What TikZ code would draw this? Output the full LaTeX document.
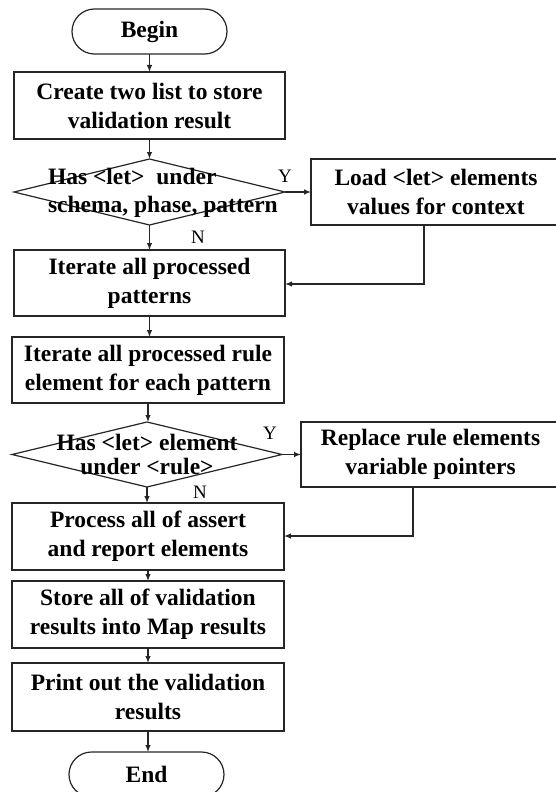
\documentclass[tikz,border=0pt]{standalone}
\usepackage{fontspec}
\setmainfont{Liberation Serif}
\usetikzlibrary{shapes.geometric,arrows.meta,calc}

\begin{document}
\begin{tikzpicture}[x=1pt,y=-1pt,
  line width=1.2pt,
  every node/.style={inner sep=0pt,outer sep=0pt},
  txt/.style={font=\fontsize{23.5}{29}\selectfont\bfseries,align=center},
  procbox/.style={draw=black!85,rectangle,txt},
  termbox/.style={draw=black!85,rectangle,rounded corners=22.5pt,
    minimum width=155pt,minimum height=45pt,txt},
  decbox/.style={draw=black!85,diamond,inner sep=0pt},
  yn/.style={font=\fontsize{19}{22}\selectfont},
  arr/.style={draw=black!85,-{Latex[length=7pt,width=5.5pt]}}
]
\useasboundingbox (0,0) rectangle (556,792);
\clip (0,0) rectangle (556,792);

% main column
\node[termbox] (begin) at (149.5,31.5) {Begin};
\node[procbox,minimum width=271pt,minimum height=67pt] (create) at (149.5,105.5)
  {Create two list to store\\validation result};
\node[decbox,minimum width=271pt,minimum height=66pt] (dec1) at (149.5,192) {};
\node[txt,anchor=west,align=left,font=\fontsize{23.5}{28}\selectfont\bfseries] (dec1t) at (48,193)
  {Has <let>\ \ under\\schema, phase, pattern};
\node[procbox,minimum width=250pt,minimum height=66pt] (load) at (436,192)
  {Load <let> elements\\values for context};
\node[procbox,minimum width=271pt,minimum height=66pt] (iter) at (149.5,283)
  {Iterate all processed\\patterns};
\node[procbox,minimum width=272pt,minimum height=66pt] (iterrule) at (148,370)
  {Iterate all processed rule\\element for each pattern};
\node[decbox,minimum width=270pt,minimum height=65pt] (dec2) at (147,454.5) {};
\node[txt,font=\fontsize{23.5}{24}\selectfont\bfseries] (dec2t) at (147,454)
  {Has <let> element\\under <rule>};
\node[procbox,minimum width=259pt,minimum height=65pt] (replace) at (430.5,454.5)
  {Replace rule elements\\variable pointers};
\node[procbox,minimum width=272pt,minimum height=67pt] (process) at (148,536.5)
  {Process all of assert\\and report elements};
\node[procbox,minimum width=272pt,minimum height=67pt] (store) at (148,614.5)
  {Store all of validation\\results into Map results};
\node[procbox,minimum width=272pt,minimum height=68pt] (print) at (148,697)
  {Print out the validation\\results};
\node[termbox] (end) at (146.5,774.5) {End};

% branch labels
\node[yn] (y1) at (285,176) {Y};
\node[yn] (n1) at (198,237) {N};
\node[yn] (y2) at (270,433) {Y};
\node[yn] (n2) at (200,492) {N};

% straight flow
\draw[arr] (begin.south) -- (begin.south |- create.north);
\draw[arr] (create.south) -- (create.south |- dec1.north);
\draw[arr] (dec1.south) -- (dec1.south |- iter.north);
\draw[arr] (dec1.east) -- (load.west);
\draw[arr] (iter.south) -- (iter.south |- iterrule.north);
\draw[arr] (iterrule.south) -- (iterrule.south |- dec2.north);
\draw[arr] (dec2.south) -- (dec2.south |- process.north);
\draw[arr] (dec2.east) -- (replace.west);
\draw[arr] (process.south) -- (process.south |- store.north);
\draw[arr] (store.south) -- (store.south |- print.north);
\draw[arr] (print.south) -- (print.south |- end.north);

% return paths from the side boxes
\coordinate (loadout) at (424,0);
\coordinate (loadturn) at (424,284);
\draw[arr] (loadout |- load.south) -- (loadturn) -- (loadturn -| iter.east);
\coordinate (repout) at (413,0);
\coordinate (repturn) at (413,536);
\draw[arr] (repout |- replace.south) -- (repturn) -- (repturn -| process.east);
\end{tikzpicture}
\end{document}
